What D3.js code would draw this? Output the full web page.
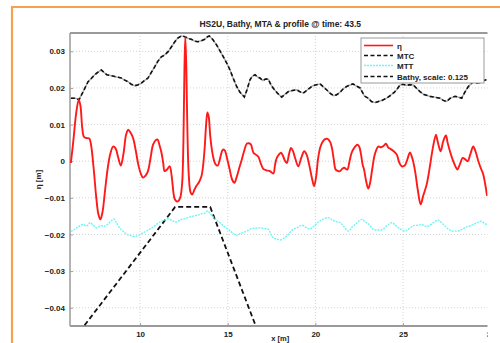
<!DOCTYPE html>
<html>
<head>
<meta charset="utf-8">
<script src="https://cdn.jsdelivr.net/npm/d3@7/dist/d3.min.js"></script>
<style>
  html, body { margin: 0; padding: 0; background: #fff; }
  svg { display: block; }
  text { font-family: "Liberation Sans", Arial, sans-serif; font-weight: bold; fill: #222; }
</style>
</head>
<body>
<svg id="chart" width="500" height="343"></svg>
<script>
// Free-surface elevation eta [x (m), eta (m)]
const eta = [[6.05,-0.0005],[6.2,0.006],[6.35,0.013],[6.5,0.0168],[6.6,0.015],[6.7,0.009],[6.8,0.0066],[6.95,0.0063],[7.1,0.0062],[7.2,0.0045],[7.35,-0.002],[7.5,-0.010],[7.62,-0.0145],[7.73,-0.0159],[7.85,-0.014],[8.0,-0.008],[8.15,-0.002],[8.3,0.002],[8.46,0.004],[8.6,0.0035],[8.75,0.001],[8.9,-0.0012],[9.05,0.002],[9.2,0.0072],[9.32,0.0086],[9.45,0.0078],[9.6,0.0063],[9.75,0.003],[9.9,-0.001],[10.05,-0.0035],[10.17,-0.0045],[10.3,-0.004],[10.45,-0.0027],[10.6,0.001],[10.74,0.0045],[10.9,0.0058],[11.0,0.0059],[11.1,0.0045],[11.22,0.0023],[11.32,-0.0005],[11.4,-0.0027],[11.55,-0.0022],[11.69,-0.0014],[11.8,-0.004],[11.9,-0.0085],[11.98,-0.0104],[12.1,-0.011],[12.2,-0.0108],[12.3,-0.0098],[12.4,-0.006],[12.47,0.005],[12.53,0.025],[12.58,0.034],[12.64,0.025],[12.7,0.008],[12.78,-0.004],[12.88,-0.0085],[12.97,-0.0091],[13.1,-0.0078],[13.21,-0.0068],[13.35,-0.0058],[13.5,-0.0041],[13.6,-0.001],[13.69,0.004],[13.76,0.0095],[13.84,0.0133],[13.92,0.012],[14.0,0.007],[14.1,0.003],[14.2,0.0005],[14.3,-0.0008],[14.43,-0.0012],[14.55,0.0005],[14.68,0.0028],[14.75,0.0032],[14.85,0.0028],[14.95,0.001],[15.1,-0.002],[15.25,-0.005],[15.38,-0.0059],[15.5,-0.0045],[15.65,-0.002],[15.8,0.0004],[15.95,0.003],[16.09,0.0048],[16.2,0.0049],[16.32,0.0046],[16.46,0.0024],[16.6,0.0018],[16.75,0.0012],[16.9,-0.0008],[17.03,-0.0021],[17.2,-0.0025],[17.41,-0.0027],[17.6,-0.0034],[17.7,-0.001],[17.8,0.0009],[17.92,0.0018],[18.04,0.0023],[18.15,0.0015],[18.25,0.0003],[18.37,-0.0005],[18.5,0.002],[18.61,0.0036],[18.72,0.0028],[18.85,0.0008],[19.03,-0.0014],[19.2,0.001],[19.37,0.0027],[19.5,0.0018],[19.65,-0.001],[19.8,-0.0045],[19.93,-0.0068],[20.05,-0.004],[20.15,0.0005],[20.27,0.0036],[20.4,0.0052],[20.55,0.006],[20.7,0.0061],[20.85,0.0052],[20.95,0.0035],[21.05,0.0005],[21.16,-0.0023],[21.3,-0.0027],[21.41,-0.0027],[21.55,-0.002],[21.65,-0.0018],[21.82,-0.0023],[21.95,0.0],[22.07,0.0023],[22.2,0.0035],[22.39,0.0045],[22.5,0.004],[22.6,0.002],[22.7,-0.001],[22.78,-0.0023],[22.9,-0.0055],[23.02,-0.0075],[23.12,-0.006],[23.25,-0.002],[23.4,0.002],[23.59,0.004],[23.75,0.0038],[23.9,0.0042],[24.03,0.0048],[24.15,0.0038],[24.3,0.0033],[24.45,0.0028],[24.64,0.0018],[24.8,-0.0005],[24.93,-0.0014],[25.1,-0.0012],[25.25,0.0005],[25.4,0.0024],[25.55,0.0005],[25.7,-0.003],[25.85,-0.008],[26.01,-0.0118],[26.15,-0.0095],[26.35,-0.0064],[26.55,-0.001],[26.7,0.0035],[26.88,0.0072],[26.95,0.006],[27.05,0.004],[27.15,0.0027],[27.3,0.0055],[27.45,0.007],[27.55,0.005],[27.68,0.0027],[27.85,0.0002],[28.0,-0.0015],[28.1,-0.0023],[28.25,-0.0008],[28.41,0.0009],[28.55,0.0005],[28.69,0.0],[28.85,0.002],[29.01,0.004],[29.15,0.0025],[29.3,0.0],[29.45,-0.002],[29.58,-0.0036],[29.7,-0.0065],[29.8,-0.0095]];

// Mean trough-to-crest envelope MTC
const mtc = [[6.05,0.0172],[6.3,0.0172],[6.52,0.0168],[6.75,0.019],[7.03,0.0217],[7.2,0.0225],[7.41,0.0236],[7.6,0.0243],[7.79,0.0249],[7.95,0.0242],[8.1,0.0236],[8.3,0.0234],[8.56,0.0231],[8.75,0.0229],[8.93,0.0227],[9.1,0.0222],[9.31,0.0217],[9.5,0.021],[9.7,0.0206],[9.9,0.0209],[10.07,0.0213],[10.25,0.022],[10.45,0.0227],[10.65,0.0243],[10.84,0.0258],[11.0,0.0272],[11.21,0.0285],[11.4,0.029],[11.6,0.0299],[11.8,0.0313],[11.98,0.0326],[12.15,0.0336],[12.35,0.0342],[12.55,0.034],[12.75,0.0335],[12.92,0.0333],[13.1,0.0328],[13.3,0.0326],[13.5,0.0329],[13.69,0.0333],[13.85,0.034],[13.95,0.0342],[14.15,0.0332],[14.37,0.0317],[14.55,0.0302],[14.75,0.0285],[14.95,0.0267],[15.13,0.0249],[15.3,0.0228],[15.51,0.0204],[15.7,0.0188],[15.95,0.0175],[16.1,0.0195],[16.27,0.0222],[16.4,0.0232],[16.56,0.0236],[16.7,0.023],[16.84,0.0227],[17.0,0.022],[17.15,0.0224],[17.32,0.0224],[17.45,0.021],[17.6,0.0199],[17.85,0.0185],[18.08,0.0175],[18.25,0.0182],[18.46,0.019],[18.7,0.0193],[18.94,0.0195],[19.1,0.019],[19.31,0.0186],[19.55,0.0195],[19.79,0.0204],[20.0,0.0208],[20.27,0.0211],[20.45,0.0203],[20.64,0.0195],[20.85,0.0185],[21.03,0.0179],[21.2,0.0181],[21.41,0.0188],[21.6,0.0198],[21.79,0.0204],[21.98,0.0208],[22.15,0.0211],[22.35,0.0205],[22.55,0.02],[22.8,0.0178],[23.02,0.0172],[23.2,0.0163],[23.4,0.016],[23.6,0.0163],[23.8,0.0166],[24.07,0.0172],[24.3,0.018],[24.5,0.0188],[24.64,0.0195],[24.83,0.0208],[25.0,0.021],[25.2,0.0207],[25.4,0.0209],[25.59,0.0208],[25.8,0.0198],[25.97,0.019],[26.2,0.0182],[26.54,0.0177],[26.8,0.0175],[27.11,0.0172],[27.3,0.0166],[27.49,0.0163],[27.7,0.0172],[27.97,0.0177],[28.15,0.0175],[28.35,0.0172],[28.55,0.019],[28.73,0.0204],[29.01,0.0217],[29.2,0.0213],[29.4,0.0215],[29.6,0.022],[29.8,0.0223]];

// Mean trough level MTT
const mtt = [[6.05,-0.0192],[6.3,-0.0185],[6.5,-0.0178],[6.76,-0.0173],[6.95,-0.0177],[7.15,-0.0168],[7.35,-0.0176],[7.53,-0.0182],[7.75,-0.0176],[7.95,-0.0178],[8.15,-0.0172],[8.35,-0.0163],[8.5,-0.0158],[8.65,-0.0168],[8.86,-0.0184],[9.05,-0.0192],[9.24,-0.02],[9.45,-0.0203],[9.71,-0.0206],[9.95,-0.0201],[10.19,-0.0195],[10.45,-0.0188],[10.67,-0.0182],[10.9,-0.0174],[11.14,-0.0166],[11.4,-0.0161],[11.61,-0.0157],[11.85,-0.0163],[12.09,-0.0166],[12.3,-0.016],[12.56,-0.0157],[12.8,-0.0153],[13.04,-0.015],[13.3,-0.0147],[13.52,-0.0143],[13.7,-0.0142],[13.85,-0.0136],[14.05,-0.0146],[14.3,-0.0158],[14.56,-0.0168],[14.8,-0.0178],[15.03,-0.0186],[15.25,-0.0195],[15.51,-0.0202],[15.7,-0.0198],[15.89,-0.0195],[16.1,-0.019],[16.37,-0.0184],[16.6,-0.0183],[16.84,-0.0182],[17.1,-0.0184],[17.32,-0.0186],[17.45,-0.0198],[17.6,-0.0209],[17.8,-0.0213],[17.99,-0.0215],[18.2,-0.021],[18.37,-0.0204],[18.55,-0.0195],[18.74,-0.0186],[18.95,-0.0182],[19.22,-0.0175],[19.45,-0.018],[19.7,-0.0185],[19.95,-0.0176],[20.2,-0.0165],[20.45,-0.0158],[20.74,-0.0154],[20.95,-0.016],[21.2,-0.0165],[21.41,-0.0168],[21.65,-0.018],[21.88,-0.0191],[22.1,-0.018],[22.3,-0.0172],[22.45,-0.0165],[22.65,-0.0159],[22.85,-0.0166],[23.05,-0.0172],[23.31,-0.0186],[23.55,-0.0188],[23.85,-0.0186],[24.1,-0.0175],[24.36,-0.0168],[24.55,-0.0174],[24.75,-0.0182],[24.95,-0.0188],[25.12,-0.0191],[25.35,-0.0184],[25.6,-0.0176],[25.85,-0.0175],[26.07,-0.0173],[26.3,-0.0178],[26.5,-0.0176],[26.75,-0.0167],[27.01,-0.0161],[27.25,-0.017],[27.5,-0.0182],[27.75,-0.019],[27.97,-0.0191],[28.2,-0.019],[28.4,-0.0185],[28.6,-0.018],[28.82,-0.0177],[29.05,-0.0172],[29.25,-0.0168],[29.49,-0.0164],[29.65,-0.017],[29.8,-0.0173]];

// Bar profile: positions (m) and bed level (m), drawn scaled
const bathyX = [6, 12, 14, 17];
const bathyZ = [-0.4, -0.1, -0.1, -0.4];
const bathyScale = 0.125;

const xTicks = [10, 15, 20, 25, 30];
const yTicks = [0.03, 0.02, 0.01, 0, -0.01, -0.02, -0.03, -0.04];
const seriesNames = ["\u03b7", "MTC", "MTT", "Bathy, scale: " + bathyScale];
const titleText = "HS2U, Bathy, MTA & profile @ time: 43.5";

const svg = d3.select("#chart");
const L = 70, T = 33, B = 326, R = 490.6, visibleR = 487.5;

const x = d3.scaleLinear().domain([6, 30]).range([L, R]);
const y = d3.scaleLinear().domain([-0.045, 0.035]).range([B, T]);

// outer orange frame
svg.append("path")
  .attr("d", "M12,343 L12,7 L500,7")
  .attr("fill", "none").attr("stroke", "#f4a250").attr("stroke-width", 2.2);

svg.append("defs").append("clipPath").attr("id", "plotClip")
  .append("rect").attr("x", L).attr("y", T).attr("width", visibleR - L).attr("height", B - T);

// grid
const grid = svg.append("g");
grid.selectAll("line.gx").data(xTicks).join("line")
  .attr("x1", d => x(d)).attr("x2", d => x(d)).attr("y1", T).attr("y2", B)
  .attr("stroke", "#c8c8c8").attr("stroke-width", 0.8).attr("stroke-dasharray", "1,2");
grid.selectAll("line.gy").data(yTicks).join("line")
  .attr("x1", L).attr("x2", visibleR).attr("y1", d => y(d)).attr("y2", d => y(d))
  .attr("stroke", "#c8c8c8").attr("stroke-width", 0.8).attr("stroke-dasharray", "1,2");

// axes
const xAxis = d3.axisBottom(x).tickValues(xTicks).tickSize(-3).tickPadding(5).tickFormat(d3.format("d"));
const gx = svg.append("g").attr("transform", `translate(0,${B})`).call(xAxis);
const yAxis = d3.axisLeft(y).tickValues(yTicks).tickSize(-3).tickPadding(5)
  .tickFormat(d => d === 0 ? "0" : d3.format(".2f")(d));
const gy = svg.append("g").attr("transform", `translate(${L},0)`).call(yAxis);
[gx, gy].forEach(g => {
  g.select(".domain").remove();
  g.selectAll(".tick line").attr("stroke", "#888").attr("stroke-width", 0.8);
  g.selectAll(".tick text").style("font-size", "8px").style("font-weight", "bold").attr("fill", "#222");
});

// axes box
svg.append("line").attr("x1", L).attr("x2", visibleR).attr("y1", T).attr("y2", T).attr("stroke", "#9a9a9a").attr("stroke-width", 1.8);
svg.append("line").attr("x1", L).attr("x2", visibleR).attr("y1", B).attr("y2", B).attr("stroke", "#9a9a9a").attr("stroke-width", 1.8);
svg.append("line").attr("x1", L).attr("x2", L).attr("y1", T).attr("y2", B).attr("stroke", "#9a9a9a").attr("stroke-width", 1.5);

const plot = svg.append("g").attr("clip-path", "url(#plotClip)");
const line = d3.line().x(d => x(d[0])).y(d => y(d[1]));
const smooth = d3.line().x(d => x(d[0])).y(d => y(d[1])).curve(d3.curveCatmullRom.alpha(0.5));

// bathymetry (scaled)
const bathy = bathyX.map((bx, i) => [bx, bathyZ[i] * bathyScale]);
plot.append("path").attr("d", line(bathy)).attr("fill", "none")
  .attr("stroke", "#111").attr("stroke-width", 1.8).attr("stroke-dasharray", "5,3");

// MTT
plot.append("path").attr("d", smooth(mtt)).attr("fill", "none")
  .attr("stroke", "#70f4f4").attr("stroke-width", 1.4).attr("stroke-dasharray", "2,1");

// MTC
plot.append("path").attr("d", line(mtc)).attr("fill", "none")
  .attr("stroke", "#aaa").attr("stroke-width", 1.4);
plot.append("path").attr("d", line(mtc)).attr("fill", "none")
  .attr("stroke", "#111").attr("stroke-width", 1.6).attr("stroke-dasharray", "4,2.5");

// eta
plot.append("path").attr("d", smooth(eta)).attr("fill", "none")
  .attr("stroke", "#ff1a1a").attr("stroke-width", 1.9);

// legend
const lg = svg.append("g");
lg.append("rect").attr("x", 361).attr("y", 38).attr("width", 123).attr("height", 45)
  .attr("fill", "#fff").attr("stroke", "#999").attr("stroke-width", 1);
const styles = [
  {stroke: "#ff1a1a", dash: null, w: 1.6},
  {stroke: "#111", dash: "4,2.5", w: 1.4},
  {stroke: "#70f4f4", dash: "2,1", w: 1.3},
  {stroke: "#111", dash: "4,2.5", w: 1.4}
];
const rowY = [45.5, 55.5, 65.5, 76.5];
seriesNames.forEach((name, i) => {
  lg.append("line").attr("x1", 364).attr("x2", 393).attr("y1", rowY[i]).attr("y2", rowY[i])
    .attr("stroke", styles[i].stroke).attr("stroke-width", styles[i].w)
    .attr("stroke-dasharray", styles[i].dash);
  lg.append("text").attr("x", 397).attr("y", rowY[i] + 3).style("font-size", "8px").text(name);
});

// cropped right margin
svg.append("rect").attr("x", visibleR + 0.5).attr("y", 9).attr("width", 500 - visibleR).attr("height", 343).attr("fill", "#fff");

// title and labels
svg.append("text").attr("x", (L + R) / 2).attr("y", 27).attr("text-anchor", "middle")
  .style("font-size", "8.5px").text(titleText);
svg.append("text").attr("transform", `translate(41,${(T + B) / 2}) rotate(-90)`)
  .attr("text-anchor", "middle").style("font-size", "8px").text("\u03b7 [m]");
svg.append("text").attr("x", (L + R) / 2).attr("y", 340.5).attr("text-anchor", "middle")
  .style("font-size", "7.5px").text("x [m]");
</script>
</body>
</html>
